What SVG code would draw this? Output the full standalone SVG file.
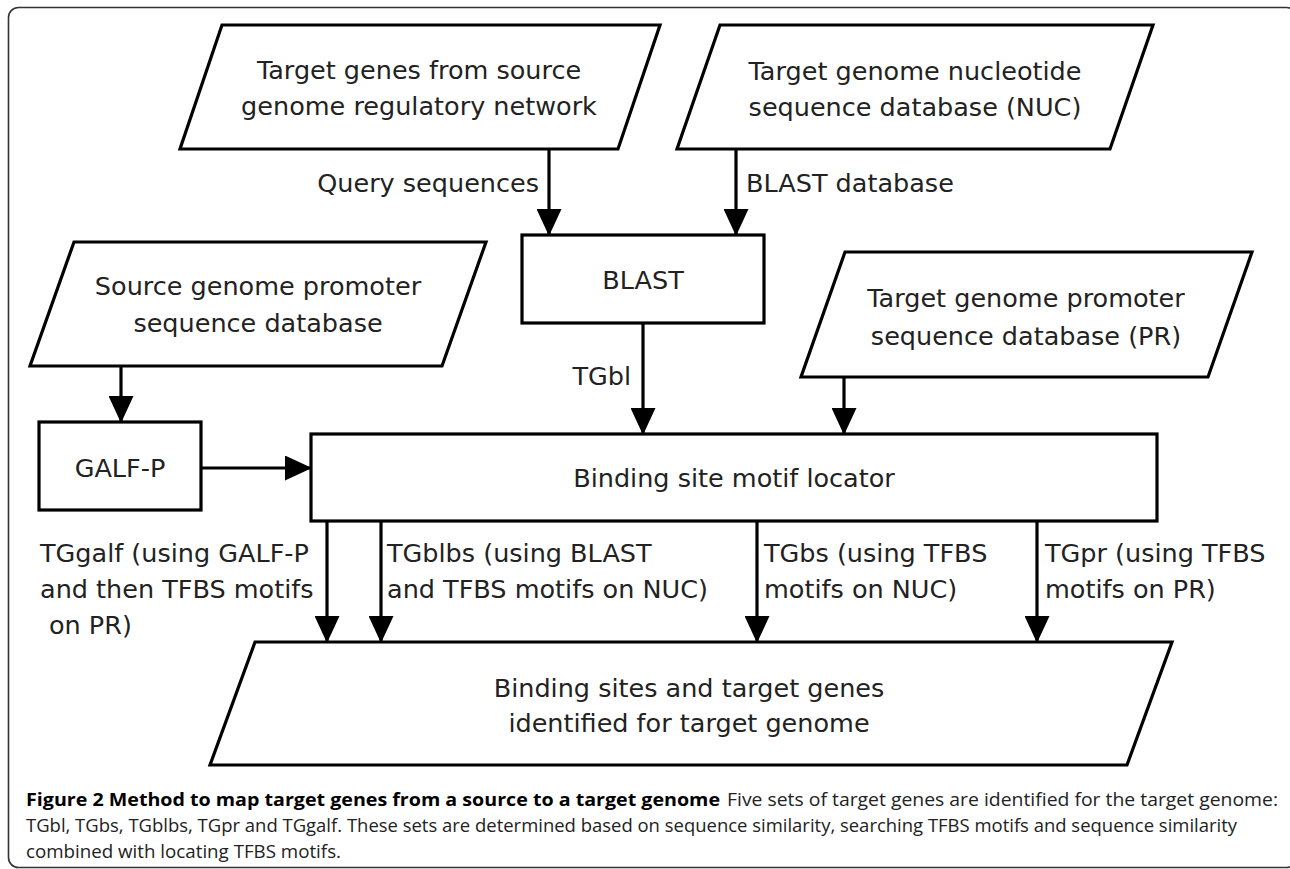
<svg xmlns="http://www.w3.org/2000/svg" width="1290" height="869" viewBox="0 0 1290 869">
<style>
.frame{fill:none;stroke:#333;stroke-width:1.6}
.shape{fill:#fff;stroke:#000;stroke-width:3.2}
.t{font-family:"DejaVu Sans","Liberation Sans",sans-serif;font-size:25.5px;fill:#222}
.c{text-anchor:middle}
.e{text-anchor:end}
.conn line{stroke:#000;stroke-width:3.2}
.cap{font-family:"Open Sans","Liberation Sans",sans-serif;font-size:17.5px;fill:#222}
.capb{font-family:"Open Sans","Liberation Sans",sans-serif;font-size:17.5px;font-weight:bold;fill:#000}
</style>
<defs>
<marker id="ah" markerUnits="userSpaceOnUse" markerWidth="27" markerHeight="25" viewBox="0 0 27 25" refX="26" refY="12.5" orient="auto">
<path d="M0,0 L27,12.5 L0,25 z" fill="#000"/>
</marker>
</defs>
<rect width="1290" height="869" fill="#fff"/>
<rect class="frame" x="8.5" y="7.5" width="1288" height="860" rx="10"/>

<g id="node-target-genes">
<polygon class="shape" points="222,25 660,25 618,149 180,149"/>
<text class="t c" x="419" y="79">Target genes from source</text>
<text class="t c" x="419" y="115">genome regulatory network</text>
</g>
<g id="node-nuc">
<polygon class="shape" points="720,25 1153,25 1110,149 677,149"/>
<text class="t c" x="915" y="80">Target genome nucleotide</text>
<text class="t c" x="915" y="116">sequence database (NUC)</text>
</g>
<g id="node-source-promoter">
<polygon class="shape" points="74,242 486,242 442,366 30,366"/>
<text class="t c" x="258" y="295">Source genome promoter</text>
<text class="t c" x="258" y="332">sequence database</text>
</g>
<g id="node-blast">
<rect class="shape" x="522" y="235" width="242" height="88"/>
<text class="t c" x="643" y="289">BLAST</text>
</g>
<g id="node-target-promoter">
<polygon class="shape" points="845,252 1252,252 1208,377 801,377"/>
<text class="t c" x="1026" y="307">Target genome promoter</text>
<text class="t c" x="1026" y="345">sequence database (PR)</text>
</g>
<g id="node-galfp">
<rect class="shape" x="39" y="422" width="162" height="88"/>
<text class="t c" x="120" y="477">GALF-P</text>
</g>
<g id="node-locator">
<rect class="shape" x="311" y="434" width="846" height="87"/>
<text class="t c" x="734" y="487">Binding site motif locator</text>
</g>
<g id="node-result">
<polygon class="shape" points="255,642 1172,642 1127,765 210,765"/>
<text class="t c" x="689" y="697">Binding sites and target genes</text>
<text class="t c" x="689" y="732">identified for target genome</text>
</g>

<g id="connectors" class="conn">
<line x1="549" y1="149" x2="549" y2="235" marker-end="url(#ah)"/>
<line x1="736" y1="149" x2="736" y2="235" marker-end="url(#ah)"/>
<line x1="643" y1="323" x2="643" y2="434" marker-end="url(#ah)"/>
<line x1="844" y1="377" x2="844" y2="434" marker-end="url(#ah)"/>
<line x1="121" y1="366" x2="121" y2="422" marker-end="url(#ah)"/>
<line x1="201" y1="468" x2="311" y2="468" marker-end="url(#ah)"/>
<line x1="327" y1="521" x2="327" y2="642" marker-end="url(#ah)"/>
<line x1="381" y1="521" x2="381" y2="642" marker-end="url(#ah)"/>
<line x1="757" y1="521" x2="757" y2="642" marker-end="url(#ah)"/>
<line x1="1037" y1="521" x2="1037" y2="642" marker-end="url(#ah)"/>
</g>

<g id="labels">
<text class="t e" x="539" y="192">Query sequences</text>
<text class="t" x="746" y="192">BLAST database</text>
<text class="t e" x="631" y="385">TGbl</text>
<text class="t" x="40" y="562">TGgalf (using GALF-P</text>
<text class="t" x="40" y="598">and then TFBS motifs</text>
<text class="t" x="49" y="634">on PR)</text>
<text class="t" x="387" y="562">TGblbs (using BLAST</text>
<text class="t" x="387" y="598">and TFBS motifs on NUC)</text>
<text class="t" x="764" y="562">TGbs (using TFBS</text>
<text class="t" x="764" y="598">motifs on NUC)</text>
<text class="t" x="1045" y="562">TGpr (using TFBS</text>
<text class="t" x="1045" y="598">motifs on PR)</text>
</g>

<g id="caption">
<text class="capb" x="26" y="806" textLength="694" lengthAdjust="spacingAndGlyphs">Figure 2 Method to map target genes from a source to a target genome</text>
<text class="cap" x="727" y="806" textLength="551" lengthAdjust="spacingAndGlyphs">Five sets of target genes are identified for the target genome:</text>
<text class="cap" x="26" y="832" textLength="1211" lengthAdjust="spacingAndGlyphs">TGbl, TGbs, TGblbs, TGpr and TGgalf. These sets are determined based on sequence similarity, searching TFBS motifs and sequence similarity</text>
<text class="cap" x="26" y="858" textLength="315" lengthAdjust="spacingAndGlyphs">combined with locating TFBS motifs.</text>
</g>
</svg>
